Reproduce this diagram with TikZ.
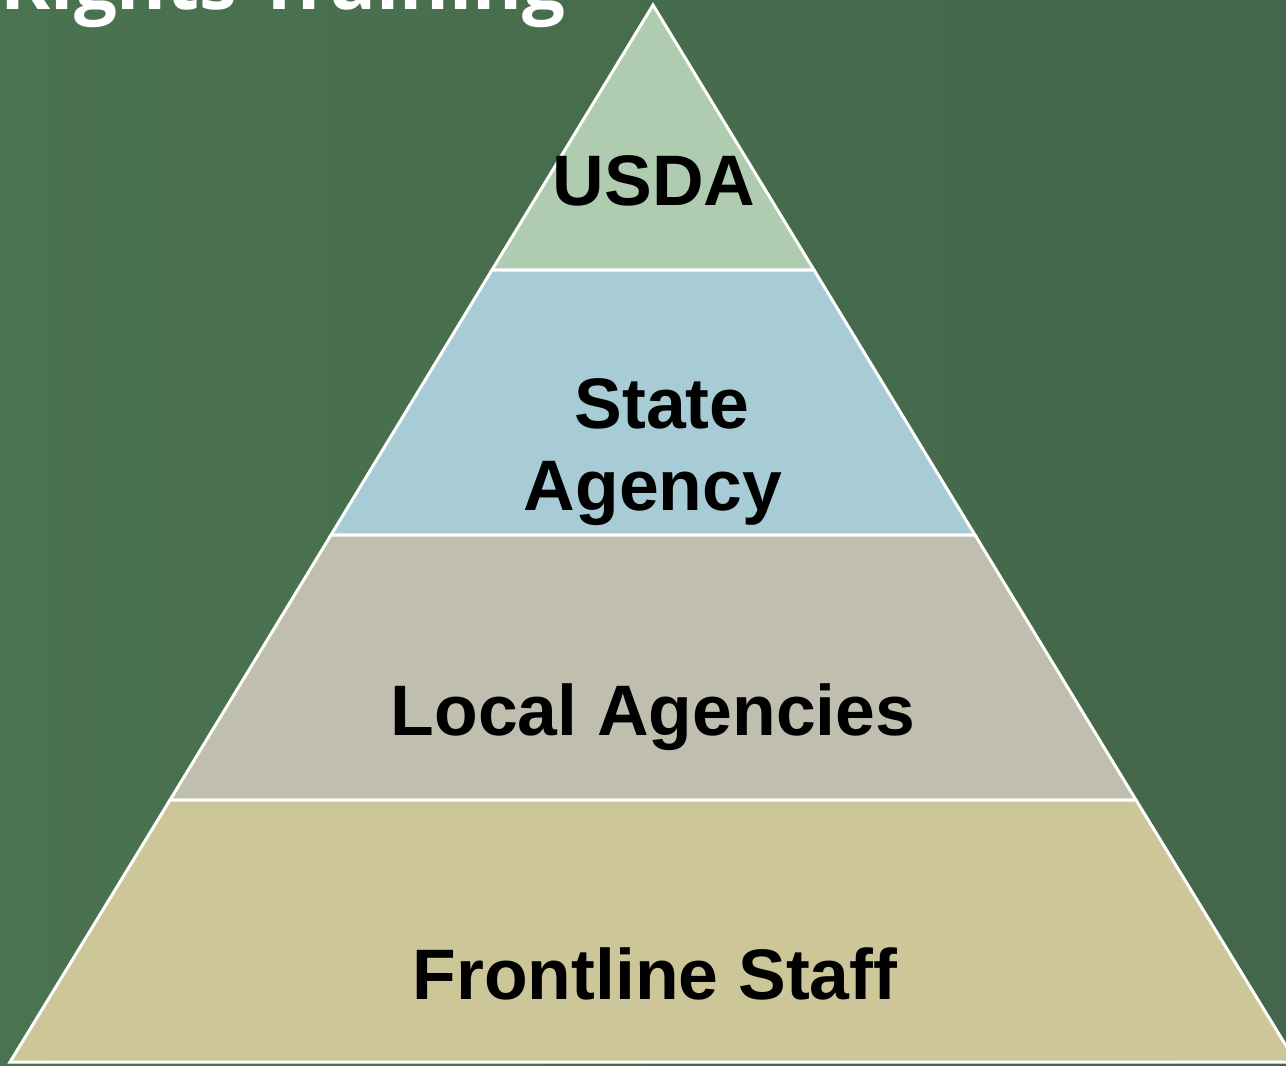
\documentclass[tikz,border=0pt]{standalone}
\usepackage{fontspec}
\setmainfont{Liberation Sans}
\newfontfamily\titlefont{Open Sans}
\definecolor{bgL}{HTML}{4A7350}
\definecolor{bgR}{HTML}{44664A}
\definecolor{cUSDA}{HTML}{AFCBB0}
\definecolor{cState}{HTML}{A8CCD5}
\definecolor{cLocal}{HTML}{C0BFAF}
\definecolor{cFront}{HTML}{CDC698}
\tikzset{
  layer/.style={draw=white, line width=3pt, line join=miter},
  lbl/.style={font=\fontsize{71.5}{83}\selectfont\bfseries, text=black, inner sep=0pt, anchor=base},
}
\begin{document}
\begin{tikzpicture}[x=1pt,y=-1pt]
\useasboundingbox (0,0) rectangle (1286,1066);
\clip (0,0) rectangle (1286,1066);
\shade[left color=bgL, right color=bgR] (0,0) rectangle (1286,1066);
% pyramid geometry: apex (653,5), base y=1062, half width 643
\coordinate (apex) at (653,5);
\coordinate (aL) at (492,270);  \coordinate (aR) at (814,270);
\coordinate (bL) at (331,535);  \coordinate (bR) at (975,535);
\coordinate (cL) at (170,800);  \coordinate (cR) at (1136,800);
\coordinate (dL) at (10,1062);  \coordinate (dR) at (1296,1062);
\draw[layer, fill=cUSDA] (apex) -- (aR) -- (aL) -- cycle;
\draw[layer, fill=cState] (aL) -- (aR) -- (bR) -- (bL) -- cycle;
\draw[layer, fill=cLocal] (bL) -- (bR) -- (cR) -- (cL) -- cycle;
\draw[layer, fill=cFront] (cL) -- (cR) -- (dR) -- (dL) -- cycle;
\node[lbl] (usda) at (654,205) {USDA};
\node[lbl] (state) at (662,428) {State};
\node[lbl] (agency) at (653,510) {Agency};
\node[lbl] (local) at (653,735) {Local Agencies};
\node[lbl] (front) at (655,999) {Frontline Staff};
\node[font=\titlefont\fontsize{76}{80}\selectfont\bfseries, text=white, inner sep=0pt, anchor=base east] (title) at (566,9) {Rights Training};
\end{tikzpicture}
\end{document}
